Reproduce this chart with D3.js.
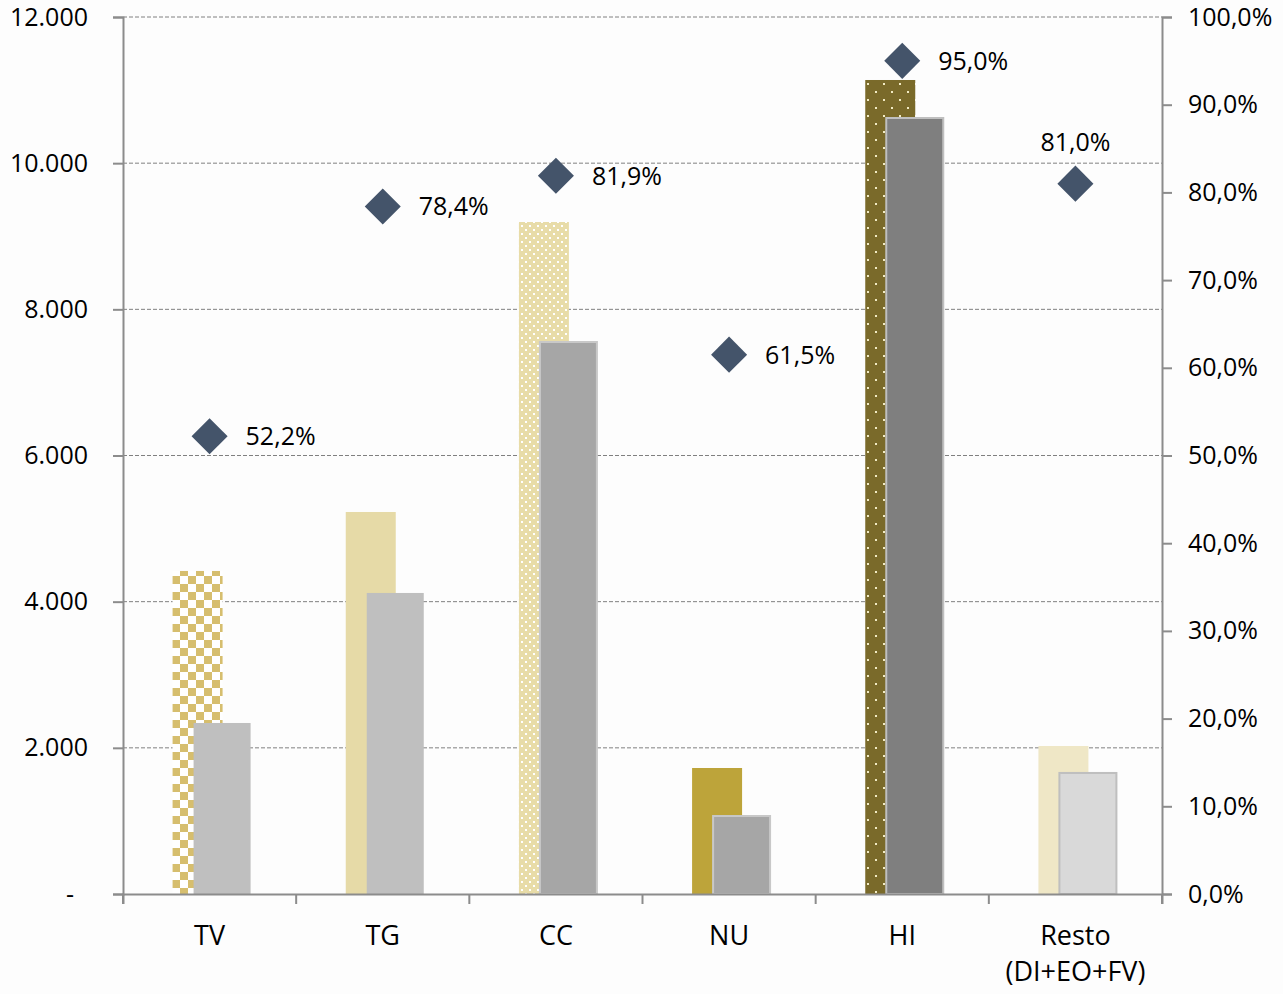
<!DOCTYPE html>
<html>
<head>
<meta charset="utf-8">
<script src="https://cdn.jsdelivr.net/npm/d3@7"></script>
<style>
  body { margin: 0; background: #fdfdfd; }
  text { font-family: 'Open Sans', sans-serif; fill: #000; }
</style>
</head>
<body>
<div id="app"></div>
<script>
// data
const categories = ['TV', 'TG', 'CC', 'NU', 'HI', 'Resto\n(DI+EO+FV)'];
const totalValues = [4420, 5227, 9195, 1724, 11138, 2025];
const partValues = [2340, 4119, 7553, 1067, 10618, 1656];
const percentValues = [52.2, 78.4, 81.9, 61.5, 95.0, 81.0];
const leftTicks = [0, 2000, 4000, 6000, 8000, 10000, 12000];
const rightTicks = [0, 10, 20, 30, 40, 50, 60, 70, 80, 90, 100];

const goldFills = ['url(#checker)', '#E6DAA7', 'url(#dotsLight)', '#BDA43A', 'url(#dotsDark)', '#EFE7C6'];
const greyFills = ['#BFBFBF', '#BFBFBF', '#A6A6A6', '#A6A6A6', '#7F7F7F', '#D9D9D9'];
const greyStrokes = ['none', 'none', '#C8C8C8', '#C8C8C8', '#BFBFBF', '#BFBFBF'];

const width = 1283, height = 994;
const plotLeft = 123, plotRight = 1162, plotTop = 17, plotBottom = 894;

const svg = d3.select('#app').append('svg').attr('width', width).attr('height', height);

svg.append('defs').html(`
  <pattern id="checker" width="16" height="16" patternUnits="userSpaceOnUse" x="172" y="0">
    <rect width="16" height="16" fill="#fff"/>
    <rect width="8" height="8" fill="#D6BE6E"/>
    <rect x="8" y="8" width="8" height="8" fill="#D6BE6E"/>
  </pattern>
  <pattern id="dotsLight" width="8" height="8" patternUnits="userSpaceOnUse">
    <rect width="8" height="8" fill="#E8DCA8"/>
    <rect x="1" y="1" width="2" height="2" fill="#fff"/>
    <rect x="5" y="5" width="2" height="2" fill="#fff"/>
  </pattern>
  <pattern id="dotsDark" width="16" height="16" patternUnits="userSpaceOnUse">
    <rect width="16" height="16" fill="#7A6A2A"/>
    <rect x="3" y="3" width="2" height="2" fill="#F2EBC4"/>
    <rect x="11" y="11" width="2" height="2" fill="#F2EBC4"/>
  </pattern>
`);

const x = d3.scaleBand().domain(categories).range([plotLeft, plotRight]);
const y = d3.scaleLinear().domain([0, 12000]).range([plotBottom, plotTop]);
const yPct = d3.scaleLinear().domain([0, 100]).range([plotBottom, plotTop]);

// gridlines
svg.append('g')
  .selectAll('line')
  .data(leftTicks.filter(d => d > 0))
  .join('line')
  .attr('x1', plotLeft).attr('x2', plotRight)
  .attr('y1', d => y(d)).attr('y2', d => y(d))
  .attr('stroke', '#808080')
  .attr('stroke-dasharray', '4,2');

// bars
const groups = svg.append('g')
  .selectAll('g')
  .data(categories)
  .join('g');

groups.append('rect')
  .attr('x', d => x(d) + x.bandwidth() / 2 - 37)
  .attr('width', 50)
  .attr('y', (d, i) => y(totalValues[i]))
  .attr('height', (d, i) => plotBottom - y(totalValues[i]))
  .attr('fill', (d, i) => goldFills[i]);

groups.append('rect')
  .attr('x', d => x(d) + x.bandwidth() / 2 - 16)
  .attr('width', 57)
  .attr('y', (d, i) => y(partValues[i]))
  .attr('height', (d, i) => plotBottom - y(partValues[i]))
  .attr('fill', (d, i) => greyFills[i])
  .attr('stroke', (d, i) => greyStrokes[i])
  .attr('stroke-width', 2);

// axes
const axisLeft = d3.axisLeft(y).tickValues(leftTicks).tickSize(10)
  .tickFormat(d => d === 0 ? '-' : d3.format(',')(d).replace(',', '.'));
const axL = svg.append('g').attr('transform', `translate(${plotLeft},0)`).call(axisLeft);
axL.select('.domain').attr('stroke', '#8C8C8C').attr('stroke-width', 2);
axL.selectAll('.tick line').attr('stroke', '#8C8C8C').attr('stroke-width', 2);
axL.selectAll('text').attr('x', d => d === 0 ? -49 : -35).attr('font-size', 25)
  .style('font-family', "'Open Sans', sans-serif");

const axisRight = d3.axisRight(yPct).tickValues(rightTicks).tickSize(10)
  .tickFormat(d => d.toFixed(1).replace('.', ',') + '%');
const axR = svg.append('g').attr('transform', `translate(${plotRight},0)`).call(axisRight);
axR.select('.domain').attr('stroke', '#8C8C8C').attr('stroke-width', 2);
axR.selectAll('.tick line').attr('stroke', '#8C8C8C').attr('stroke-width', 2);
axR.selectAll('text').attr('x', 26).attr('font-size', 25).style('font-family', "'Open Sans', sans-serif");

const axisBottom = d3.axisBottom(x).tickSize(10).tickFormat('');
const axB = svg.append('g').attr('transform', `translate(0,${plotBottom})`).call(axisBottom);
axB.select('.domain').attr('stroke', '#8C8C8C').attr('stroke-width', 2);
axB.selectAll('.tick').remove();
axB.selectAll('.sep')
  .data(d3.range(categories.length + 1))
  .join('line')
  .attr('x1', i => plotLeft + i * x.step()).attr('x2', i => plotLeft + i * x.step())
  .attr('y1', 0).attr('y2', 10)
  .attr('stroke', '#8C8C8C').attr('stroke-width', 2);

// category labels
svg.append('g')
  .selectAll('text')
  .data(categories)
  .join('text')
  .attr('x', d => x(d) + x.bandwidth() / 2)
  .attr('y', 945)
  .attr('text-anchor', 'middle')
  .attr('font-size', 27)
  .selectAll('tspan')
  .data(d => d.split('\n'))
  .join('tspan')
  .attr('x', function () { return d3.select(this.parentNode).attr('x'); })
  .attr('dy', (d, i) => i === 0 ? 0 : 36)
  .text(d => d);

// diamonds
const sym = d3.symbol().type(d3.symbolSquare).size(650);
svg.append('g')
  .selectAll('path')
  .data(categories)
  .join('path')
  .attr('d', sym)
  .attr('transform', (d, i) => `translate(${x(d) + x.bandwidth() / 2},${yPct(percentValues[i])}) rotate(45)`)
  .attr('fill', '#44546A');

// percent labels
svg.append('g')
  .selectAll('text')
  .data(categories)
  .join('text')
  .attr('x', (d, i) => i === 5 ? x(d) + x.bandwidth() / 2 : x(d) + x.bandwidth() / 2 + 36)
  .attr('y', (d, i) => i === 5 ? yPct(percentValues[i]) - 33 : yPct(percentValues[i]) + 9)
  .attr('text-anchor', (d, i) => i === 5 ? 'middle' : 'start')
  .attr('font-size', 25)
  .text((d, i) => percentValues[i].toFixed(1).replace('.', ',') + '%');
</script>
</body>
</html>
